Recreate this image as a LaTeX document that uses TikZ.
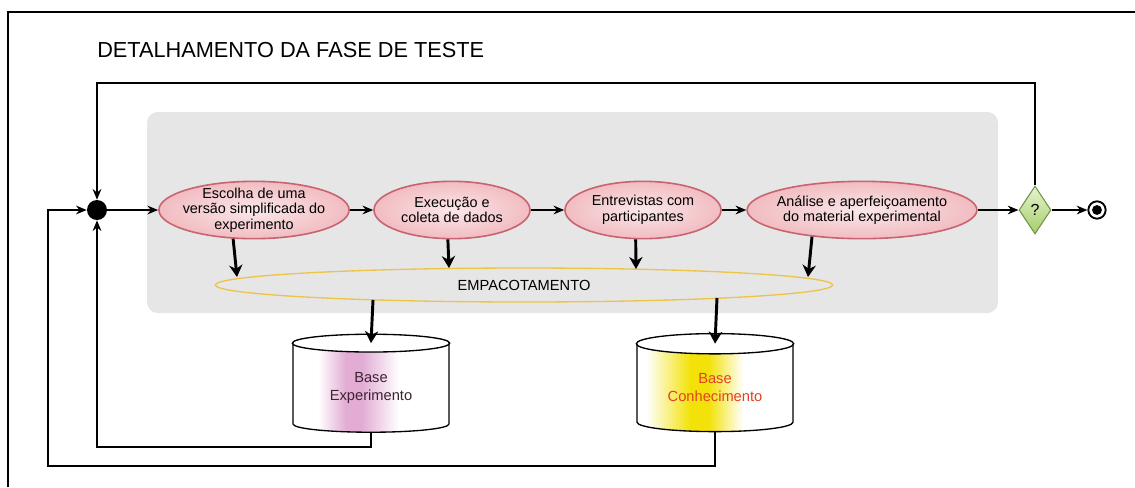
\documentclass[tikz,border=0pt]{standalone}
\usepackage{fontspec}
\setmainfont{Liberation Sans}
\usetikzlibrary{arrows.meta,shapes.geometric,calc}

\definecolor{fundo}{RGB}{230,230,230}
\definecolor{rosa}{RGB}{241,188,193}
\definecolor{bordarosa}{RGB}{200,100,112}
\definecolor{amarelo}{RGB}{236,196,72}
\definecolor{verdeclaro}{RGB}{230,243,208}
\definecolor{verdeescuro}{RGB}{165,206,105}
\definecolor{bordaverde}{RGB}{110,150,70}
\definecolor{lilas}{RGB}{226,172,212}
\definecolor{ouro}{RGB}{243,226,10}
\definecolor{vermelho}{RGB}{226,64,36}
\definecolor{escuro}{RGB}{60,36,52}

\pgfdeclarehorizontalshading{faixalilas}{100bp}{color(0bp)=(white); color(33bp)=(white); color(42bp)=(lilas); color(47bp)=(lilas); color(59bp)=(white); color(100bp)=(white)}
\pgfdeclarehorizontalshading{faixaouro}{100bp}{color(0bp)=(white); color(28bp)=(white); color(42bp)=(ouro); color(48bp)=(ouro); color(59bp)=(white); color(100bp)=(white)}

\begin{document}
\begin{tikzpicture}[x=0.75pt,y=0.75pt,
  etapa/.style={ellipse,draw=bordarosa,line width=1.2pt,inner xsep=-3pt,inner ysep=-3pt,
    align=center,inner color=white!65!rosa,outer color=rosa,
    minimum height=43pt,font=\fontsize{10.8}{11.6}\selectfont},
  fluxo/.style={line width=1.4pt,-{Stealth[length=8pt,width=6.5pt]}},
  queda/.style={line width=2.2pt,-{Stealth[length=9pt,width=10pt]}},
  banco/.style={cylinder,shape border rotate=90,aspect=0.2,draw,line width=1pt,
    minimum width=117pt,minimum height=73pt,inner sep=0pt,align=center,
    font=\fontsize{11}{13.5}\selectfont}]
\useasboundingbox (0,0) rectangle (1135,-487);
% moldura e titulo
\draw [line width=0.9pt] (8,-487) -- (8,-12) -- (1135,-12);
\node [anchor=base west,inner sep=0pt,font=\fontsize{16.3}{18}\selectfont] (titulo) at (97,-57) {DETALHAMENTO DA FASE DE TESTE};
\fill [fundo,rounded corners=8pt] (147,-112) rectangle (998,-313);
\coordinate (topo) at (0,-83);
% atividades
\node [circle,fill=black,minimum size=15pt,inner sep=0pt] (juncao) at (97,-210) {};
\node [etapa,minimum width=140pt] (escolha) at (254,-210) {Escolha de uma\\versão simplificada do\\experimento};
\node [etapa,minimum width=117pt] (execucao) at (452,-210) {Execução e\\coleta de dados};
\node [etapa,minimum width=117pt] (entrevistas) at (643,-210) {Entrevistas com\\participantes};
\node [etapa,minimum width=169pt] (analise) at (862,-210) {Análise e aperfeiçoamento\\do material experimental};
\node [diamond,draw=bordaverde,line width=0.8pt,top color=verdeclaro,bottom color=verdeescuro,
  minimum width=24pt,minimum height=36pt,inner sep=0pt,font=\fontsize{12}{14}\selectfont] (decisao) at (1035,-210) {?};
\node [circle,draw,line width=1.4pt,fill=white,minimum size=13pt,inner sep=0pt] (fim) at (1097,-210) {};
\fill (fim) circle (3.7pt);
% empacotamento e bases
\node [ellipse,draw=amarelo,line width=1pt,minimum width=463pt,minimum height=25.5pt,inner sep=0pt,
  font=\fontsize{11}{12}\selectfont] (empacotamento) at (524,-285) {EMPACOTAMENTO};
\node [banco,shade,shading=faixalilas,text=escuro] (bexperimento) at (371,-388) {Base\\Experimento};
\node [banco,shade,shading=faixaouro,text=vermelho] (bconhecimento) at (715,-388) {Base\\Conhecimento};
\filldraw [fill=white,line width=1pt] let \p1=($(bexperimento.before top)!0.5!(bexperimento.after top)$),
  \p2=(bexperimento.top), \p3=(bexperimento.after top) in (\p1) ellipse [x radius={\x3-\x1},y radius={\y2-\y1}];
\filldraw [fill=white,line width=1pt] let \p1=($(bconhecimento.before top)!0.5!(bconhecimento.after top)$),
  \p2=(bconhecimento.top), \p3=(bconhecimento.after top) in (\p1) ellipse [x radius={\x3-\x1},y radius={\y2-\y1}];
% fluxo principal
\draw [fluxo] (juncao) -- (escolha);
\draw [fluxo] (escolha) -- (execucao);
\draw [fluxo] (execucao) -- (entrevistas);
\draw [fluxo] (entrevistas) -- (analise);
\draw [fluxo] (analise) -- (decisao);
\draw [fluxo] (decisao) -- (fim);
% retornos
\draw [fluxo] (decisao.north) -- (decisao.north |- topo) -| (juncao);
\draw [fluxo] (bexperimento.south) -- ++(0,-14) -| (juncao);
\draw [fluxo] (bconhecimento.south) -- ++(0,-34) -| (48,-210) -- (juncao);
% empacotamento
\draw [queda] (escolha.234) -- ($(empacotamento)+(-287,8)$);
\draw [queda] (execucao.262) -- ($(empacotamento)+(-75,17)$);
\draw [queda] (entrevistas.256) -- ($(empacotamento)+(112,16)$);
\draw [queda] (analise.208) -- ($(empacotamento)+(284,8)$);
\draw [queda] ($(empacotamento)+(-151,-15)$) -- ($(bexperimento.before top)!0.5!(bexperimento.after top)$);
\draw [queda] ($(empacotamento)+(193,-13)$) -- ($(bconhecimento.before top)!0.5!(bconhecimento.after top)$);
\end{tikzpicture}
\end{document}
